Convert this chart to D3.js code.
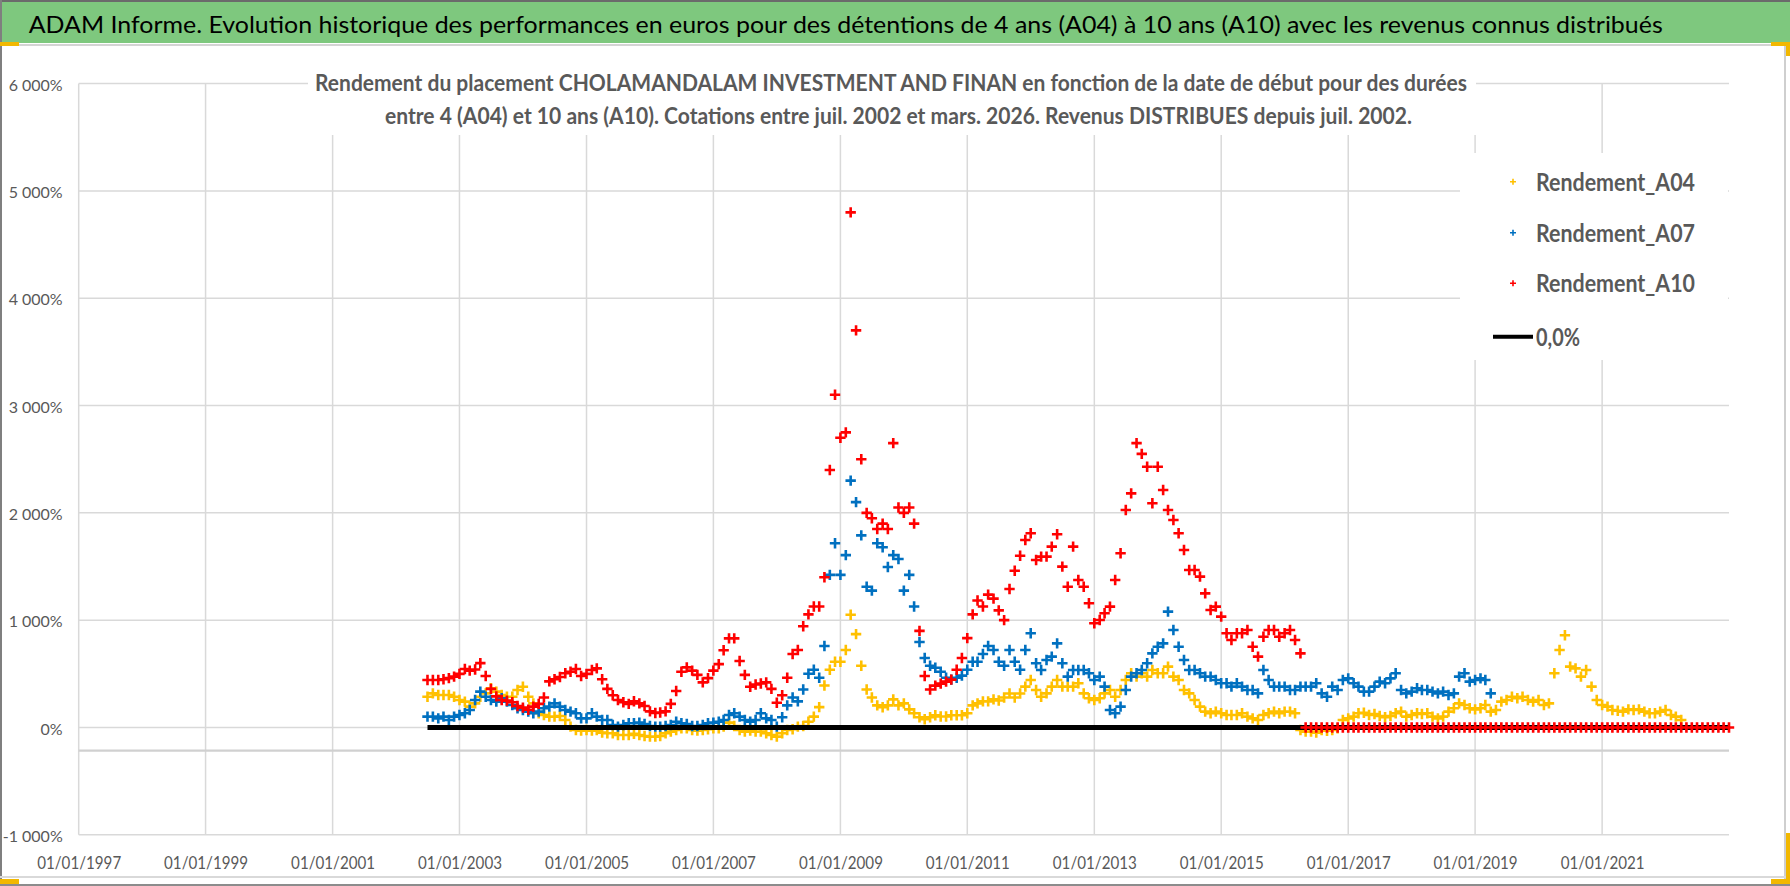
<!DOCTYPE html>
<html>
<head>
<meta charset="utf-8">
<script src="https://cdn.jsdelivr.net/npm/d3@7"></script>
<style>
body { margin: 0; background: #fff; }
svg { display: block; font-family: Lato, "Open Sans", sans-serif; }
</style>
</head>
<body>
<svg width="1790" height="886"></svg>
<script>

// monthly readings (%), first value = juil. 2002
var a04 = [
	287, 318, 303, 303, 303, 287, 256, 241, 194, 225, 287, 318,
	365, 334, 303, 287, 287, 349, 380, 287, 225, 132, 116, 101,
	101, 107, 70, 8, -23, -29, -23, -29, -23, -48, -54, -54,
	-70, -70, -70, -60, -70, -79, -85, -85, -79, -54, -39, -23,
	-8, -8, -23, -29, -23, -17, -8, -8, 8, 45, 14, -23,
	-39, -29, -39, -39, -54, -70, -85, -54, -23, -17, 8, 14,
	54, 101, 190, 391, 538, 612, 612, 722, 1050, 870, 575, 354,
	280, 206, 188, 206, 262, 206, 225, 169, 133, 96, 77, 96,
	114, 103, 103, 114, 114, 114, 133, 206, 225, 243, 243, 262,
	251, 280, 317, 280, 317, 381, 443, 349, 287, 318, 381, 443,
	381, 381, 381, 412, 318, 272, 256, 272, 318, 349, 287, 349,
	443, 505, 474, 505, 474, 536, 505, 505, 567, 474, 443, 349,
	318, 256, 194, 148, 132, 148, 132, 116, 116, 116, 132, 101,
	85, 70, 116, 132, 148, 132, 148, 148, 132, -23, -39, -39,
	-48, -23, -30, -23, -8, 70, 85, 101, 132, 138, 116, 126,
	107, 95, 107, 132, 148, 101, 116, 132, 126, 132, 101, 85,
	101, 148, 179, 225, 210, 179, 169, 179, 210, 148, 163, 241,
	256, 287, 272, 287, 256, 241, 256, 210, 225, 505, 722, 860,
	567, 551, 474, 536, 381, 256, 210, 194, 163, 156, 148, 169,
	163, 169, 148, 132, 132, 148, 163, 116, 101, 70
];

var a07 = [
	101, 101, 85, 101, 70, 101, 116, 132, 163, 256, 334, 287,
	256, 241, 272, 241, 210, 179, 163, 148, 132, 148, 179, 194,
	225, 194, 163, 148, 132, 85, 85, 132, 101, 70, 70, 23,
	8, 23, 39, 39, 45, 33, 14, 8, 8, 14, 23, 54,
	39, 33, 14, 14, 23, 39, 45, 54, 70, 116, 132, 101,
	70, 54, 70, 132, 85, 70, 8, 96, 206, 280, 243, 354,
	501, 538, 464, 759, 1422, 1717, 1422, 1606, 2300, 2100, 1790, 1312,
	1275, 1717, 1680, 1496, 1606, 1570, 1275, 1422, 1127, 796, 648, 575,
	556, 520, 464, 446, 464, 483, 538, 612, 612, 685, 759, 722,
	612, 575, 722, 612, 538, 722, 878, 598, 536, 629, 660, 784,
	598, 474, 536, 536, 536, 505, 443, 474, 381, 163, 132, 194,
	349, 474, 505, 536, 598, 691, 753, 784, 1080, 909, 753, 629,
	536, 536, 505, 474, 474, 443, 412, 412, 381, 412, 381, 349,
	349, 318, 536, 443, 381, 381, 381, 349, 349, 381, 381, 381,
	412, 318, 287, 381, 349, 443, 458, 412, 381, 334, 334, 381,
	427, 412, 458, 505, 349, 318, 334, 365, 349, 349, 334, 318,
	334, 303, 318, 474, 505, 427, 443, 458, 443, 318
];

var a10 = [
	443, 443, 443, 450, 460, 474, 500, 545, 530, 540, 600, 480,
	360, 290, 256, 250, 235, 200, 185, 165, 194, 220, 280, 430,
	450, 470, 505, 520, 545, 480, 500, 536, 551, 450, 360, 300,
	256, 235, 220, 245, 225, 200, 150, 135, 140, 150, 220, 340,
	520, 560, 530, 490, 420, 460, 530, 590, 720, 830, 830, 620,
	490, 380, 400, 410, 420, 360, 230, 300, 464, 685, 722, 943,
	1054, 1127, 1127, 1400, 2400, 3100, 2700, 2750, 4800, 3700, 2500, 2000,
	1950, 1850, 1900, 1850, 2650, 2050, 2000, 2050, 1900, 900, 480, 354,
	390, 409, 427, 446, 538, 648, 833, 1054, 1183, 1127, 1238, 1201,
	1091, 1000, 1290, 1460, 1600, 1747, 1810, 1561, 1592, 1592, 1685, 1800,
	1499, 1312, 1685, 1375, 1312, 1157, 971, 1002, 1064, 1126, 1375, 1623,
	2027, 2182, 2650, 2550, 2430, 2089, 2430, 2213, 2027, 1934, 1810, 1654,
	1468, 1468, 1406, 1250, 1095, 1126, 1033, 878, 815, 878, 878, 909,
	753, 660, 846, 909, 909, 846, 878, 909, 815, 691,
	// no 10 year result after mars 2016 : plotted at 0
	0, 0, 0, 0, 0, 0, 0, 0, 0, 0, 0, 0,
	0, 0, 0, 0, 0, 0, 0, 0, 0, 0, 0, 0,
	0, 0, 0, 0, 0, 0, 0, 0, 0, 0, 0, 0,
	0, 0, 0, 0, 0, 0, 0, 0, 0, 0, 0, 0,
	0, 0, 0, 0, 0, 0, 0, 0, 0, 0, 0, 0,
	0, 0, 0, 0, 0, 0, 0, 0, 0, 0, 0, 0,
	0, 0, 0, 0, 0, 0, 0, 0, 0
];

var zeroDates = ["01/07/2002", "01/01/2023"];
var zeroValues = [0, 0];

var xTickLabels = ["01/01/1997", "01/01/1999", "01/01/2001", "01/01/2003", "01/01/2005",
	"01/01/2007", "01/01/2009", "01/01/2011", "01/01/2013", "01/01/2015", "01/01/2017",
	"01/01/2019", "01/01/2021"];
var yTicks = [-1000, 0, 1000, 2000, 3000, 4000, 5000, 6000];
var axisCross = -216;

var seriesNames = ["Rendement_A04", "Rendement_A07", "Rendement_A10"];
var seriesColors = ["#FFC000", "#0070C0", "#FF0000"];

var parse = d3.timeParse("%d/%m/%Y");
var firstMonth = parse("01/07/2002");

function toPoints(values){
	return values.map(function(v, i){
		return {date: d3.timeMonth.offset(firstMonth, i), value: v};
	});
}

var svg = d3.select('svg');

var x = d3.scaleTime()
	.domain([parse("01/01/1997"), parse("01/01/2023")])
	.range([78.7, 1729]);

var y = d3.scaleLinear()
	.domain([-1000, 6000])
	.range([834.8, 83.6]);

var fr = d3.formatLocale({decimal: ",", thousands: " ", grouping: [3], currency: ["", ""], minus: "-"});
var pct = function(v){ return fr.format(",")(v) + "%"; };

// ----- frame and banner
svg.append('rect').attr('x', 0).attr('y', 0).attr('width', 1790).attr('height', 886).attr('fill', '#fff');
svg.append('rect')
	.attr('x', 0).attr('y', 1).attr('width', 1790).attr('height', 42)
	.attr('fill', '#7ec87e');
svg.append('line').attr('x1', 0).attr('x2', 1790).attr('y1', 1).attr('y2', 1)
	.attr('stroke', '#6b6b6b').attr('stroke-width', 2);
svg.append('line').attr('x1', 0).attr('x2', 1784).attr('y1', 45).attr('y2', 45)
	.attr('stroke', '#d4d4d4').attr('stroke-width', 2);
svg.append('line').attr('x1', 1).attr('x2', 1).attr('y1', 0).attr('y2', 886)
	.attr('stroke', '#7f7f7f').attr('stroke-width', 2);
svg.append('line').attr('x1', 1785).attr('x2', 1785).attr('y1', 45).attr('y2', 880)
	.attr('stroke', '#bfbfbf').attr('stroke-width', 1.5);
svg.append('line').attr('x1', 0).attr('x2', 1786).attr('y1', 877).attr('y2', 877)
	.attr('stroke', '#d9d9d9').attr('stroke-width', 2);
svg.append('line').attr('x1', 0).attr('x2', 1790).attr('y1', 885).attr('y2', 885)
	.attr('stroke', '#8c8c8c').attr('stroke-width', 2);
// selection handles
svg.append('rect').attr('x', 0).attr('y', 42).attr('width', 19).attr('height', 4).attr('fill', '#f2b800');
svg.append('rect').attr('x', 1771).attr('y', 42).attr('width', 19).attr('height', 4).attr('fill', '#f2b800');
svg.append('rect').attr('x', 1786).attr('y', 42).attr('width', 4).attr('height', 14).attr('fill', '#f2b800');
svg.append('rect').attr('x', 1786).attr('y', 833).attr('width', 4).attr('height', 50).attr('fill', '#f2b800');
svg.append('rect').attr('x', 1771).attr('y', 879).attr('width', 19).attr('height', 5).attr('fill', '#f2b800');
svg.append('rect').attr('x', 0).attr('y', 879).attr('width', 19).attr('height', 5).attr('fill', '#f2b800');

svg.append('text')
	.attr('x', 28.7).attr('y', 32.5)
	.attr('textLength', 1634).attr('lengthAdjust', 'spacingAndGlyphs')
	.style('font-size', '24px').style('fill', '#000')
	.text("ADAM Informe. Evolution historique des performances en euros pour des détentions de 4 ans (A04) à 10 ans (A10) avec les revenus connus distribués");

// ----- grid
svg.append('g').selectAll('line')
	.data(yTicks)
	.enter()
	.append('line')
	.attr('x1', x.range()[0]).attr('x2', x.range()[1])
	.attr('y1', function(d){ return y(d); }).attr('y2', function(d){ return y(d); })
	.attr('stroke', '#d9d9d9').attr('stroke-width', 1.5);

svg.append('g').selectAll('line')
	.data(xTickLabels.map(parse))
	.enter()
	.append('line')
	.attr('x1', function(d){ return x(d); }).attr('x2', function(d){ return x(d); })
	.attr('y1', y(6000)).attr('y2', y(-1000))
	.attr('stroke', '#d9d9d9').attr('stroke-width', 1.5);

svg.append('line')
	.attr('x1', x.range()[0]).attr('x2', x.range()[1])
	.attr('y1', y(axisCross)).attr('y2', y(axisCross))
	.attr('stroke', '#d0d0d0').attr('stroke-width', 2.2);

// ----- axes
var yAxis = svg.append('g')
	.attr('transform', 'translate(65.7,0)')
	.call(d3.axisLeft(y).tickValues(yTicks).tickSize(0).tickPadding(3).tickFormat(pct));
var xAxis = svg.append('g')
	.attr('transform', 'translate(0,850)')
	.call(d3.axisBottom(x).tickValues(xTickLabels.map(parse)).tickSize(0).tickPadding(6)
		.tickFormat(d3.timeFormat("%d/%m/%Y")));
[yAxis, xAxis].forEach(function(g){
	g.select('.domain').remove();
	g.selectAll('text')
		.style('font-family', 'Lato, sans-serif')
		.style('font-size', '16px')
		.style('fill', '#595959');
});
yAxis.selectAll('text').attr('dy', '0.42em');
xAxis.selectAll('text')
	.style('font-size', '18px')
	.attr('textLength', 84).attr('lengthAdjust', 'spacingAndGlyphs');

// ----- series
function crossPath(points, r){
	return points.map(function(p){
		var px = x(p.date), py = y(p.value);
		return 'M' + (px - r) + ',' + py + 'h' + (2 * r) + 'M' + px + ',' + (py - r) + 'v' + (2 * r);
	}).join('');
}

var markR = 5.2;
var markW = 2.6;

svg.append('path')
	.attr('d', crossPath(toPoints(a04), markR))
	.attr('fill', 'none').attr('stroke', seriesColors[0]).attr('stroke-width', markW);
svg.append('path')
	.attr('d', crossPath(toPoints(a07), markR))
	.attr('fill', 'none').attr('stroke', seriesColors[1]).attr('stroke-width', markW);

var zeroLine = d3.line()
	.x(function(d){ return x(d.date); })
	.y(function(d){ return y(d.value); });
svg.append('path')
	.datum(zeroDates.map(function(d, i){ return {date: parse(d), value: zeroValues[i]}; }))
	.attr('d', zeroLine)
	.attr('fill', 'none').attr('stroke', '#000').attr('stroke-width', 5);

svg.append('path')
	.attr('d', crossPath(toPoints(a10), markR))
	.attr('fill', 'none').attr('stroke', seriesColors[2]).attr('stroke-width', markW);

// ----- chart title (white box over the grid)
svg.append('rect')
	.attr('x', 308).attr('y', 58).attr('width', 1168).attr('height', 77)
	.attr('fill', '#fff');
var sub = svg.append('g')
	.style('font-size', '22px').style('font-weight', 'bold').style('fill', '#595959')
	.style('white-space', 'pre');
sub.append('text')
	.attr('x', 315).attr('y', 90.5)
	.attr('textLength', 1152).attr('lengthAdjust', 'spacingAndGlyphs')
	.text("Rendement du placement CHOLAMANDALAM INVESTMENT AND FINAN en fonction de la date de début pour des durées");
sub.append('text')
	.attr('x', 385).attr('y', 123.5)
	.attr('textLength', 1027).attr('lengthAdjust', 'spacingAndGlyphs')
	.text("entre 4 (A04) et 10 ans (A10).  Cotations entre juil. 2002 et mars. 2026. Revenus DISTRIBUES depuis juil. 2002.");

// ----- legend
var legendRows = [181.7, 232.7, 283.3, 336.7];
svg.append('rect')
	.attr('x', 1460).attr('y', 153).attr('width', 268).attr('height', 207)
	.attr('fill', '#fff');
var legend = svg.append('g')
	.style('font-size', '24px').style('font-weight', 'bold').style('fill', '#595959');

legend.selectAll('path.mk')
	.data(seriesNames)
	.enter()
	.append('path')
	.attr('class', 'mk')
	.attr('d', function(d, i){ return 'M1510,' + legendRows[i] + 'h6M1513,' + (legendRows[i] - 3) + 'v6'; })
	.attr('stroke', function(d, i){ return seriesColors[i]; })
	.attr('stroke-width', 1.6);

legend.selectAll('text.lb')
	.data(seriesNames)
	.enter()
	.append('text')
	.attr('class', 'lb')
	.attr('x', 1536)
	.attr('y', function(d, i){ return legendRows[i] + 8.8; })
	.attr('textLength', 159).attr('lengthAdjust', 'spacingAndGlyphs')
	.text(function(d){ return d; });

legend.append('line')
	.attr('x1', 1493).attr('x2', 1533)
	.attr('y1', legendRows[3]).attr('y2', legendRows[3])
	.attr('stroke', '#000').attr('stroke-width', 4);
legend.append('text')
	.attr('x', 1536).attr('y', legendRows[3] + 8.8)
	.attr('textLength', 44).attr('lengthAdjust', 'spacingAndGlyphs')
	.text(pct(0).replace('%', ',0%'));

</script>
</body>
</html>
